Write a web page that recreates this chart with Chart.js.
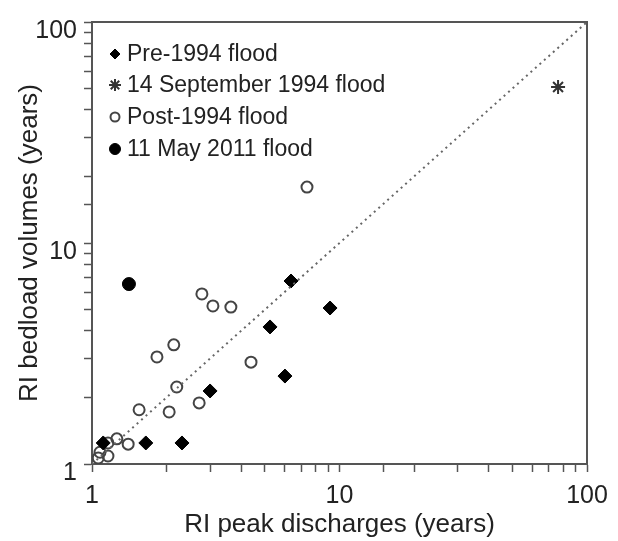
<!DOCTYPE html>
<html>
<head>
<meta charset="utf-8">
<script src="https://cdn.jsdelivr.net/npm/chart.js@4.4.0/dist/chart.umd.min.js"></script>
<style>
  body { margin: 0; background: #fff; }
  #wrap { width: 618px; height: 541px; }
</style>
</head>
<body>
<div id="wrap"><canvas id="chart"></canvas></div>
<script>
// RI values (years)
const pre1994X = [1.11, 1.65, 2.31, 3.0, 5.24, 6.02, 6.37, 9.16];
const pre1994Y = [1.245, 1.245, 1.245, 2.14, 4.17, 2.50, 6.73, 5.08];

const sep1994X = [76.4];
const sep1994Y = [50.8];

const post1994X = [7.39, 2.78, 3.08, 3.64, 2.14, 1.83, 4.39, 2.20, 2.71, 1.55, 2.05, 1.40, 1.26, 1.16, 1.16, 1.077, 1.06];
const post1994Y = [17.9, 5.88, 5.19, 5.13, 3.46, 3.05, 2.89, 2.23, 1.89, 1.76, 1.72, 1.23, 1.30, 1.245, 1.087, 1.13, 1.065];

const may2011X = [1.41];
const may2011Y = [6.52];

const lineX = [1, 100];
const lineY = [1, 100];

const tickLabels = [1, 10, 100];

function toPoints(xs, ys) {
    return xs.map((x, i) => ({ x: x, y: ys[i] }));
}

const textColor = '#222';
const axisColor = '#555';
const fontFamily = "'Liberation Sans', Arial, sans-serif";

// legend drawn inside the plot, top left
const insideLegend = {
    id: 'insideLegend',
    afterDraw(chart) {
        const ctx = chart.ctx;
        const rows = [54, 85, 117, 149];
        let row = 0;
        chart.data.datasets.forEach(ds => {
            if (!ds.label) return;
            const y = rows[row++];
            ctx.save();
            ctx.fillStyle = ds.backgroundColor;
            ctx.strokeStyle = ds.borderColor;
            ctx.lineWidth = ds.borderWidth;
            Chart.helpers.drawPoint(ctx, {
                pointStyle: ds.pointStyle,
                radius: ds.legendRadius,
                borderWidth: ds.borderWidth
            }, 115, y);
            ctx.fillStyle = textColor;
            ctx.font = '23px ' + fontFamily;
            ctx.textBaseline = 'middle';
            ctx.textAlign = 'left';
            ctx.fillText(ds.label, 127, y + 1);
            ctx.restore();
        });
    }
};

// box around the plot area
const frame = {
    id: 'frame',
    beforeDatasetsDraw(chart) {
        const a = chart.chartArea;
        const ctx = chart.ctx;
        ctx.save();
        ctx.strokeStyle = axisColor;
        ctx.lineWidth = 2;
        ctx.strokeRect(a.left, a.top, a.right - a.left, a.bottom - a.top);
        ctx.restore();
    }
};

const tickOpts = {
    color: textColor,
    font: { family: fontFamily, size: 25 },
    autoSkip: false,
    maxRotation: 0,
    callback: function (value) {
        return tickLabels.includes(value) ? String(value) : '';
    }
};

new Chart(document.getElementById('chart'), {
    type: 'scatter',
    data: {
        datasets: [
            {
                label: '',
                data: toPoints(lineX, lineY),
                showLine: true,
                borderColor: '#666',
                borderWidth: 2,
                borderDash: [2, 4],
                pointRadius: 0
            },
            {
                label: 'Pre-1994 flood',
                data: toPoints(pre1994X, pre1994Y),
                pointStyle: 'rectRot',
                pointRadius: 7,
                legendRadius: 5,
                backgroundColor: '#000',
                borderColor: '#000',
                borderWidth: 1
            },
            {
                label: '14 September 1994 flood',
                data: toPoints(sep1994X, sep1994Y),
                pointStyle: 'star',
                pointRadius: 7,
                legendRadius: 6,
                backgroundColor: '#333',
                borderColor: '#333',
                borderWidth: 2
            },
            {
                label: 'Post-1994 flood',
                data: toPoints(post1994X, post1994Y),
                pointStyle: 'circle',
                pointRadius: 5.5,
                legendRadius: 4.5,
                backgroundColor: 'rgba(0,0,0,0)',
                borderColor: '#444',
                borderWidth: 2
            },
            {
                label: '11 May 2011 flood',
                data: toPoints(may2011X, may2011Y),
                pointStyle: 'circle',
                pointRadius: 6.5,
                legendRadius: 5.5,
                backgroundColor: '#000',
                borderColor: '#000',
                borderWidth: 1
            }
        ]
    },
    options: {
        responsive: true,
        maintainAspectRatio: false,
        devicePixelRatio: 1,
        animation: false,
        layout: { padding: { top: 22, right: 31, left: 0, bottom: 0 } },
        plugins: {
            legend: { display: false },
            tooltip: { enabled: false }
        },
        scales: {
            x: {
                type: 'logarithmic',
                min: 1,
                max: 100,
                grid: { drawOnChartArea: false, color: axisColor, tickLength: 8, tickWidth: 1.5 },
                border: { color: axisColor, width: 2 },
                ticks: Object.assign({}, tickOpts, { padding: 9 }),
                title: {
                    display: true,
                    text: 'RI peak discharges (years)',
                    color: textColor,
                    font: { family: fontFamily, size: 26 },
                    padding: { top: 0, bottom: 1 }
                },
                afterFit: scale => { scale.height = 77; }
            },
            y: {
                type: 'logarithmic',
                min: 1,
                max: 100,
                grid: { drawOnChartArea: false, color: axisColor, tickLength: 8, tickWidth: 1.5 },
                border: { color: axisColor, width: 2 },
                ticks: Object.assign({}, tickOpts, { padding: 7, labelOffset: 9 }),
                title: {
                    display: true,
                    text: 'RI bedload volumes (years)',
                    color: textColor,
                    font: { family: fontFamily, size: 26 },
                    padding: { top: 14, bottom: 0 }
                },
                afterFit: scale => { scale.width = 92; }
            }
        }
    },
    plugins: [frame, insideLegend]
});
</script>
</body>
</html>
